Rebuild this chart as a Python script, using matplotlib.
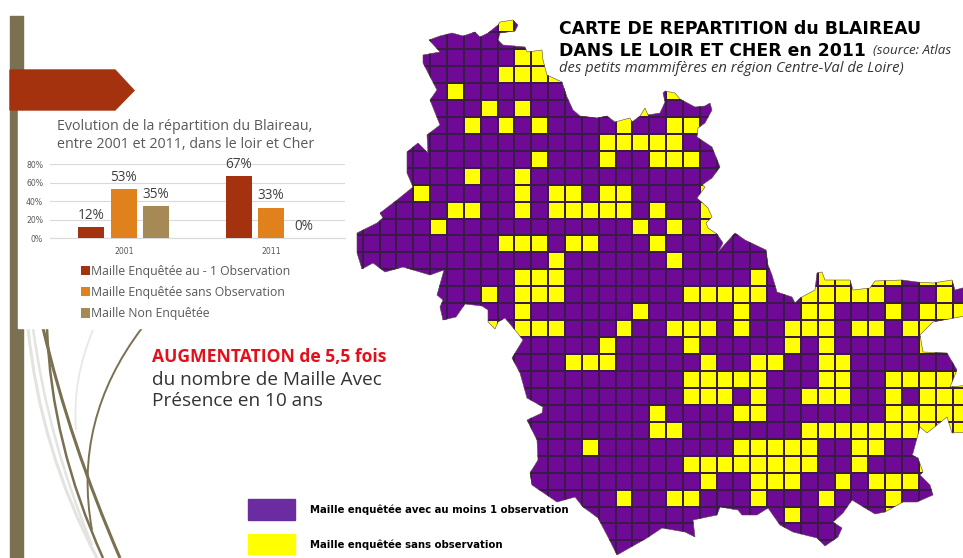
"""Loir-et-Cher badger slide: bar chart, grid map and legends."""
import numpy as np
import matplotlib
matplotlib.use("Agg")
import matplotlib.pyplot as plt
from matplotlib.colors import ListedColormap
from matplotlib.patches import PathPatch, Polygon, Rectangle
from matplotlib.path import Path

W, H = 963, 558

years = ["2001", "2011"]
series_names = ["Maille Enquêtée au - 1 Observation",
                "Maille Enquêtée sans Observation",
                "Maille Non Enquêtée"]
series_values = [[12, 67], [53, 33], [35, 0]]
series_colors = ["#a5320f", "#e0811d", "#a68a55"]
y_ticks = [0, 20, 40, 60, 80]

# yellow cells of the map: row -> columns
yellow_cells = {
    -4: [3], -2: [4, 5], -1: [3, 4, 5, 6], 0: [0, 13],
    1: [2, 4, 11], 2: [1, 3, 5, 10, 13, 14],
    3: [9, 10, 11, 12, 13], 4: [5, 9, 12, 13, 14],
    5: [1, 4], 6: [-2, 4, 6, 7, 9, 10, 15],
    7: [0, 1, 4, 6, 7, 8, 9, 10, 12, 15], 8: [-1, 11, 13, 15],
    9: [3, 4, 5, 7, 8, 12], 10: [6, 13],
    11: [4, 5, 6, 18, 22, 23, 24, 25, 26, 28, 29],
    12: [2, 4, 5, 6, 14, 15, 16, 17, 18, 21, 22, 23, 24, 25, 29],
    13: [4, 11, 17, 21, 22, 26, 28, 29, 30],
    14: [2, 4, 5, 6, 10, 13, 14, 15, 17, 20, 21, 22, 24, 25, 27, 28],
    15: [9, 14, 20, 22, 28],
    16: [7, 8, 9, 15, 18, 19, 22, 23],
    17: [14, 15, 16, 17, 18, 22, 23, 26, 27, 28, 29, 30],
    18: [14, 15, 16, 18, 21, 22, 23, 26, 28, 29, 30],
    19: [12, 17, 18, 26, 27, 28, 29, 30],
    20: [12, 13, 21, 22, 23, 24, 25, 26, 27, 28, 29, 30],
    21: [8, 17, 18, 19, 20, 21, 24, 25],
    22: [14, 15, 16, 17, 18, 19, 20, 21, 24, 28],
    23: [15, 18, 19, 20, 23, 25, 26, 27],
    24: [10, 13, 14, 18, 22, 26],
    25: [20, 26],
}

# department outline in image pixels
outline_x = [429, 440, 452, 463, 475, 480, 488, 498, 500, 513, 518, 515, 500, 498, 503,
             525, 527, 542, 543, 547, 562, 567, 573, 580, 597, 607, 615, 630, 632, 640,
             645, 648, 660, 665, 663, 665, 675, 680, 695, 705, 710, 712, 705, 698, 697,
             712, 720, 712, 702, 705, 697, 708, 712, 706, 708, 717, 723, 718, 735, 745,
             766, 768, 772, 777, 792, 795, 800, 815, 817, 822, 825, 850, 853, 870, 875,
             902, 917, 933, 952, 955, 970, 970, 933, 920, 923, 947, 957, 950, 970, 970,
             952, 947, 927, 920, 913, 912, 918, 923, 920, 930, 933, 917, 903, 885, 875,
             852, 843, 833, 842, 838, 825, 817, 793, 780, 768, 757, 742, 738, 720, 717,
             693, 695, 685, 662, 647, 617, 608, 598, 590, 583, 575, 557, 532, 530, 538,
             537, 527, 542, 543, 527, 520, 512, 523, 515, 505, 498, 495, 488, 488, 482,
             465, 456, 443, 440, 443, 437, 444, 430, 403, 385, 373, 362, 357, 357, 377,
             383, 380, 397, 413, 407, 407, 418, 428, 427, 440, 430, 437, 423, 423, 440]
outline_y = [40, 36, 33, 36, 32, 37, 33, 25, 22, 20, 25, 31, 33, 40, 45,
             47, 52, 50, 60, 75, 82, 97, 110, 116, 118, 116, 122, 118, 122, 116,
             108, 115, 113, 102, 93, 91, 93, 99, 107, 106, 103, 110, 123, 128, 137,
             147, 167, 178, 185, 187, 198, 208, 217, 223, 228, 234, 243, 252, 233, 240,
             250, 265, 275, 292, 297, 303, 298, 290, 273, 272, 280, 280, 290, 288, 281,
             280, 282, 283, 280, 290, 286, 315, 322, 335, 352, 353, 370, 387, 385, 432,
             433, 417, 433, 427, 453, 455, 458, 472, 475, 485, 495, 502, 502, 512, 514,
             500, 513, 522, 528, 537, 546, 538, 532, 525, 508, 515, 515, 510, 507, 515,
             520, 537, 532, 528, 538, 555, 537, 518, 512, 507, 497, 502, 485, 473, 460,
             440, 420, 413, 407, 398, 373, 358, 340, 330, 318, 322, 329, 322, 310, 306,
             304, 317, 320, 307, 300, 295, 270, 275, 267, 272, 263, 269, 253, 233, 223,
             218, 213, 200, 187, 173, 152, 143, 153, 135, 125, 100, 90, 63, 55, 52]

grid_x0, grid_dx = 447.0, 16.85
grid_y0, grid_dy = 83.0, 16.94
col_range = np.arange(-6, 32)
row_range = np.arange(-5, 29)

PURPLE = "#6f0a96"
YELLOW = "#ffff00"
BAR_GREY = "#7a7052"
TEXT_GREY = "#595959"
SANS = "Open Sans"


def curve(ax, pts, color, lw):
    codes = [Path.MOVETO] + [Path.CURVE3] * (len(pts) - 1)
    ax.add_patch(PathPatch(Path(pts, codes), fc="none", ec=color, lw=lw, zorder=1))


fig = plt.figure(figsize=(W / 100, H / 100), dpi=100)
bg = fig.add_axes([0, 0, 1, 1])
bg.set_xlim(0, W)
bg.set_ylim(H, 0)
bg.axis("off")

# slide decoration
curve(bg, [(28, 328), (40, 450), (97, 558)], "#e3e3df", 2.2)
curve(bg, [(33, 328), (48, 440), (92, 545)], "#e3e3df", 1.8)
curve(bg, [(93, 330), (72, 380), (76, 430)], "#e8e8e4", 1.3)
curve(bg, [(43, 328), (70, 443), (120, 558)], BAR_GREY, 2.2)
curve(bg, [(47, 328), (51, 443), (103, 558)], BAR_GREY, 1.8)
curve(bg, [(142, 328), (72, 420), (92, 530)], BAR_GREY, 1.4)
bg.add_patch(Rectangle((10, 16), 12.7, H - 16, color=BAR_GREY, zorder=2))
bg.add_patch(Rectangle((17.5, 110), 335, 218, color="white", zorder=3))
bg.add_patch(Polygon([(10, 70), (115, 70), (134, 90.5), (115, 110), (10, 110)],
                     closed=True, color="#a5320f", zorder=4))

# grid map, clipped to the outline
x_edges = grid_x0 + grid_dx * np.append(col_range, col_range[-1] + 1)
y_edges = grid_y0 + grid_dy * np.append(row_range, row_range[-1] + 1)
cells = np.zeros((len(row_range), len(col_range)))
for row, cols in yellow_cells.items():
    for col in cols:
        cells[row - row_range[0], col - col_range[0]] = 1
mesh = bg.pcolormesh(x_edges, y_edges, cells, cmap=ListedColormap([PURPLE, YELLOW]),
                     vmin=0, vmax=1, edgecolors="#3a1a48", linewidth=0.22, zorder=5)
shape = Polygon(np.column_stack([outline_x, outline_y]), closed=True, fc="none",
                ec="#5a4a40", lw=0.4, zorder=6)
bg.add_patch(shape)
mesh.set_clip_path(shape)

# map title
bg.text(559, 29, "CARTE DE REPARTITION du BLAIREAU", fontsize=12.4, fontweight="bold",
        color="black", va="center", zorder=8)
bg.text(559, 51, "DANS LE LOIR ET CHER en 2011", fontsize=12.4, fontweight="bold",
        color="black", va="center", zorder=8)
bg.text(873, 51, "(source: Atlas", fontsize=9.6, style="italic", family=SANS,
        color="#333333", va="center", zorder=8)
bg.text(559, 69, "des petits mammifères en région Centre-Val de Loire)", fontsize=10.6,
        style="italic", family=SANS, color="#333333", va="center", zorder=8)

# callout
bg.text(152, 357, "AUGMENTATION de 5,5 fois", fontsize=12.6, fontweight="bold", family=SANS,
        color="#e3101c", va="center", zorder=8)
bg.text(152, 380, "du nombre de Maille Avec", fontsize=13.7, family=SANS,
        color="#333333", va="center", zorder=8)
bg.text(152, 401, "Présence en 10 ans", fontsize=13.7, family=SANS,
        color="#333333", va="center", zorder=8)

# map legend
bg.add_patch(Rectangle((248, 499), 47, 21, color="#6a2ca0", zorder=7))
bg.add_patch(Rectangle((248, 534), 47, 20, color=YELLOW, zorder=7))
bg.text(310, 510, "Maille enquêtée avec au moins 1 observation", fontsize=7.3,
        fontweight="bold", va="center", zorder=8)
bg.text(310, 545, "Maille enquêtée sans observation", fontsize=7.3,
        fontweight="bold", va="center", zorder=8)

# bar chart title
bg.text(57, 126, "Evolution de la répartition du Blaireau,", fontsize=10.3, family=SANS,
        color=TEXT_GREY, va="center", zorder=8)
bg.text(57, 145, "entre 2001 et 2011, dans le loir et Cher", fontsize=10.3, family=SANS,
        color=TEXT_GREY, va="center", zorder=8)

# bar chart
ax = fig.add_axes([50 / W, 1 - 238.3 / H, 295 / W, 74.3 / H], zorder=9)
ax.patch.set_alpha(0)
x = np.arange(len(years))
offsets = [-0.22, 0, 0.22]
for values, name, color, off in zip(series_values, series_names, series_colors, offsets):
    bars = ax.bar(x + off, values, width=0.175, color=color, label=name, zorder=3)
    for bar, val in zip(bars, values):
        ax.text(bar.get_x() + bar.get_width() / 2, val + 4.5, f"{val}%", ha="center",
                va="bottom", fontsize=9.8, family=SANS, color="#404040", zorder=4,
                clip_on=False)
ax.set_xlim(-0.5, 1.5)
ax.set_ylim(0, 80)
ax.set_yticks(y_ticks, [f"{t}%" for t in y_ticks])
ax.set_xticks(x, years)
ax.tick_params(length=0, labelsize=5.6, colors="#595959", pad=5)
ax.tick_params(axis="x", pad=6)
ax.grid(axis="y", color="#d9d9d9", lw=0.8, zorder=0)
ax.set_axisbelow(True)
for side in ("top", "right", "left"):
    ax.spines[side].set_visible(False)
ax.spines["bottom"].set_color("#d9d9d9")
ax.legend(loc="upper left", bbox_to_anchor=(31 / 295, -0.355), frameon=False, ncol=1,
          prop={"family": SANS, "size": 8.8}, labelcolor=TEXT_GREY, handlelength=0.7,
          handleheight=0.8, handletextpad=0.15, labelspacing=0.68, borderpad=0,
          borderaxespad=0)

fig.savefig("out.png", dpi=100)
